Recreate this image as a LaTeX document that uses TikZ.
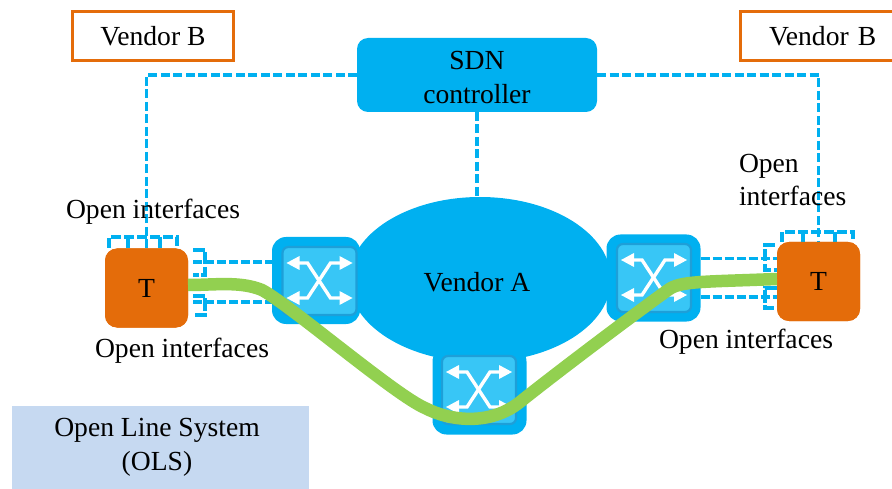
\documentclass[tikz,border=0pt]{standalone}
\usepackage{fontspec}
\setmainfont{Liberation Serif}
\usetikzlibrary{shapes.geometric}
\definecolor{sdnblue}{HTML}{00B0F0}
\definecolor{innerblue}{HTML}{38C6F6}
\definecolor{innerline}{HTML}{1E9FD8}
\definecolor{vorange}{HTML}{E46C0A}
\definecolor{glink}{HTML}{92D050}
\definecolor{olsblue}{HTML}{C6D9F1}
\tikzset{
  x=1pt,y=-1pt,
  every node/.style={font=\fontsize{27.6}{33.5}\selectfont,text=black,inner sep=0pt,outer sep=0pt},
  vendorbox/.style={draw=vorange,line width=3pt,fill=white,minimum height=49pt,anchor=center},
  ctrlbox/.style={fill=sdnblue,rounded corners=11pt,align=center},
  tbox/.style={fill=vorange,rounded corners=12pt,minimum width=83pt,minimum height=79pt},
  swouter/.style={fill=sdnblue,rounded corners=14pt,minimum width=94pt,minimum height=87pt},
  ctl/.style={draw=sdnblue,line width=3.2pt,dash pattern=on 9pt off 3.5pt},
  port/.style={draw=sdnblue,line width=3.2pt,dash pattern=on 9pt off 3pt},
  oline/.style={draw=glink,line width=12.5pt,line cap=butt,line join=round},
  xarrow/.style={draw=white,line width=3.4pt},
  xhead/.style={fill=white},
  pics/swx/.style={code={
    \fill[innerblue,draw=innerline,line width=2.2pt,rounded corners=6pt] (-37,-34) rectangle (37,34);
    \draw[xarrow] (-22,-18) -- (-12,-18) -- (11,17) -- (22,17);
    \draw[xarrow] (-22,17) -- (-12,17) -- (11,-18) -- (22,-18);
    \fill[xhead] (-33,-18) -- (-20,-25) -- (-20,-11) -- cycle;
    \fill[xhead] (-33,17) -- (-20,10) -- (-20,24) -- cycle;
    \fill[xhead] (33,-18) -- (20,-25) -- (20,-11) -- cycle;
    \fill[xhead] (33,17) -- (20,10) -- (20,24) -- cycle;
  }}
}
\begin{document}
\begin{tikzpicture}
\useasboundingbox (0,0) rectangle (892,489);
\clip (0,0) rectangle (892,489);
% boxes
\node[vendorbox,minimum width=161pt] (vbl) at (153,36) {\raisebox{-1.5pt}{Vendor B}};
\node[vendorbox,minimum width=158pt,text width=158pt,align=left] (vbr) at (819,36) {\hspace{29pt}\raisebox{-1.5pt}{Vendor B}};
\node[fill=olsblue,minimum width=297pt,minimum height=83pt,align=center] (ols) at (160.5,447.5) {};
% free port ends
\coordinate (pl1) at (193,262);
\coordinate (pl2) at (193,302);
\coordinate (pr1) at (777,258.5);
\coordinate (pr2) at (777,297);
% main shapes
\node[ctrlbox,minimum width=240pt,minimum height=74pt] (sdn) at (477,75) {};
\node[ellipse,fill=sdnblue,minimum width=262pt,minimum height=165pt] (va) at (480,279.5) {};
\node[swouter,minimum width=88pt] (sw1) at (316,280.5) {};
\node[swouter] (sw2) at (653.5,278) {};
\node[swouter] (sw3) at (479.5,391) {};
\node[tbox] (tl) at (146.5,288) {};
\node[tbox] (tr) at (818.5,281.5) {};
% control links
\draw[ctl] (sdn.west) -| (tl.north);
\draw[ctl] (sdn.east) -| (tr.north);
\draw[ctl] (sdn.south) -- (sdn.south |- va.north);
% port links
\draw[port] (pl1) -- (pl1 -| sw1.west);
\draw[port] (pl2) -- (pl2 -| sw1.west);
\draw[port] (pr1 -| sw2.east) -- (pr1);
\draw[port] (pr2 -| sw2.east) -- (pr2);
% port brackets
\draw[port,dash pattern=on 10pt off 3pt] (109,248) -- (109,237) -- (177,237) -- (177,248);
\draw[sdnblue,line width=3.2pt] (128,237) -- (128,248) (160,237) -- (160,248);
\draw[port,dash pattern=on 12pt off 2.5pt] (193,250) -- (205,250) -- (205,275) -- (193,275);
\draw[port,dash pattern=on 12pt off 2.5pt] (193,296) -- (205,296) -- (205,315) -- (193,315);
\draw[port,dash pattern=on 10pt off 3pt] (782,242) -- (782,232) -- (853,232) -- (853,242);
\draw[sdnblue,line width=3.2pt] (803,232) -- (803,242) (835,232) -- (835,242);
\draw[port,dash pattern=on 12pt off 2.5pt] (775,245) -- (765,245) -- (765,270) -- (777,270);
\draw[port,dash pattern=on 12pt off 2.5pt] (777,288) -- (765,288) -- (765,308) -- (777,308);
% redraw terminals above brackets
\node[tbox] at (tl) {T};
\node[tbox] at (tr) {T};
% switch faces
\pic at (319.5,281) {swx};
\pic at (654,278) {swx};
\pic at (479,390) {swx};
% optical path
\draw[oline] (tl.east |- 0,285) .. controls (215,285) and (240,281) .. (262,290)
  .. controls (290,305) and (395,395) .. (425,408)
  .. controls (450,421) and (490,426) .. (520,402)
  .. controls (560,370) and (640,310) .. (668,290)
  .. controls (680,281) and (700,282) .. (tr.west |- 0,279);
% texts
\node (olst) at (157,447.5) [align=center] {Open Line System\\(OLS)};
\node (sdnt) at (477,77.5) [align=center] {SDN\\controller};
\node (vat) at (477,282.5) {Vendor A};
\node (oi1) at (153,211.5) {Open interfaces};
\node (oi2) at (182,350.5) {Open interfaces};
\node (oi3) at (746,341.5) {Open interfaces};
\node[anchor=west,align=left] (oi4) at (739,180) {Open\\interfaces};
\end{tikzpicture}
\end{document}
